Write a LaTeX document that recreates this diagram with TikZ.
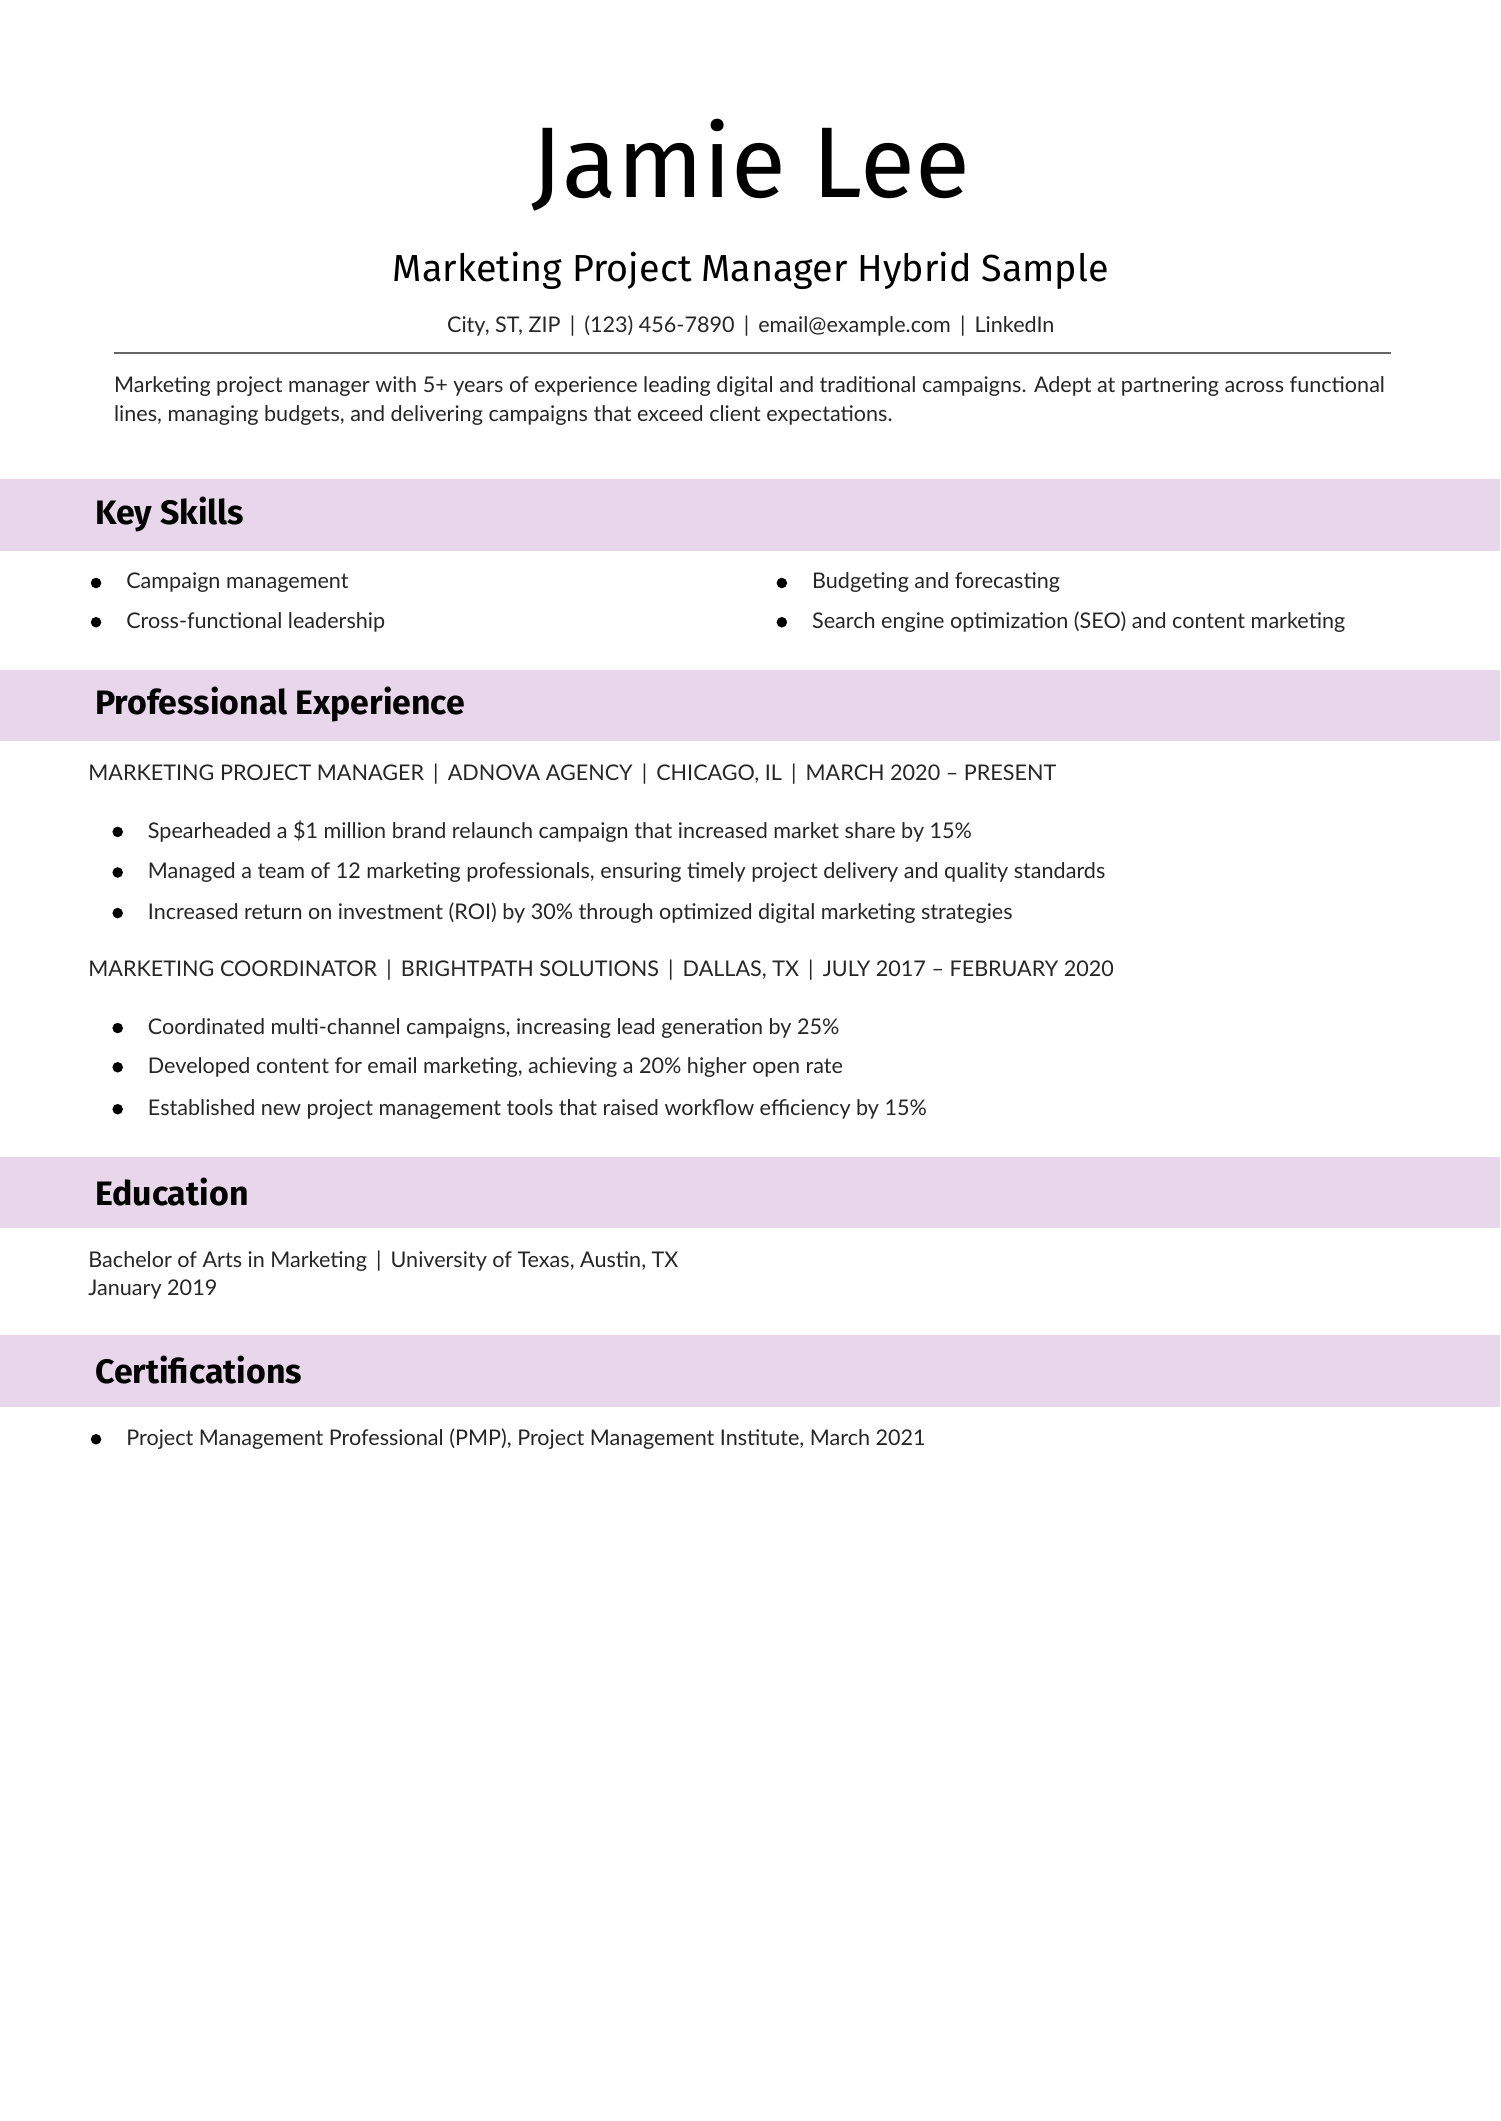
\documentclass[tikz,border=0pt]{standalone}
\usepackage{fontspec}
\setmainfont{Lato}
\newfontfamily\headfont{Fira Sans}
\usetikzlibrary{positioning}
\definecolor{band}{HTML}{E8D7EA}
\begin{document}
\begin{tikzpicture}[x=0.018936cm, y=-0.018936cm, inner sep=0pt]
   \useasboundingbox (0,0) rectangle (1109,1568);
   \tikzset{body/.style={anchor=west, font=\fontsize{8.6}{10}\selectfont, text=black!85},
            head/.style={anchor=west, font=\headfont\bfseries\fontsize{13.5}{16}\selectfont},
            dot/.style={circle, fill=black, minimum size=4.2pt}}
   % header
   \node (name) at (555,122) {\headfont\fontsize{40}{44}\selectfont Jamie Lee};
   \node (title) at (555,200) {\headfont\fontsize{15}{18}\selectfont Marketing Project Manager Hybrid Sample};
   \node[body, anchor=center] (contact) at (555,241) {City, ST, ZIP \,|\, (123) 456-7890 \,|\, email@example.com \,|\, LinkedIn};
   \draw[black!60, line width=0.8pt] (84,261) -- (1028,261);
   \node[body] (sum1) at (84,286) {Marketing project manager with 5+ years of experience leading digital and traditional campaigns. Adept at partnering across functional};
   \node[body] (sum2) at (84,307) {lines, managing budgets, and delivering campaigns that exceed client expectations.};
   % bands
   \foreach \y/\txt in {354/Key Skills, 495/Professional Experience, 855/Education, 987/Certifications} {
     \fill[band] (0,\y) rectangle (1109,\y+53);
     \node[head] at (70,\y+26) {\txt};
   }
   % skills
   \foreach \y/\txt in {431/Campaign management, 460/Cross-functional leadership}
     {\node[dot] at (71,\y) {}; \node[body] at (93,\y) {\txt};}
   \foreach \y/\txt in {431/Budgeting and forecasting, 460/Search engine optimization (SEO) and content marketing}
     {\node[dot] at (578,\y) {}; \node[body] at (600,\y) {\txt};}
   % experience
   \node[body] (job1) at (65,572) {MARKETING PROJECT MANAGER \,|\, ADNOVA AGENCY \,|\, CHICAGO, IL \,|\, MARCH 2020 -- PRESENT};
   \foreach \y/\txt in {615/Spearheaded a \$1 million brand relaunch campaign that increased market share by 15\%,
                        645/Managed a team of 12 marketing professionals{,} ensuring timely project delivery and quality standards,
                        675/Increased return on investment (ROI) by 30\% through optimized digital marketing strategies}
     {\node[dot] at (87,\y) {}; \node[body] at (109,\y) {\txt};}
   \node[body] (job2) at (65,717) {MARKETING COORDINATOR \,|\, BRIGHTPATH SOLUTIONS \,|\, DALLAS, TX \,|\, JULY 2017 -- FEBRUARY 2020};
   \foreach \y/\txt in {760/Coordinated multi-channel campaigns{,} increasing lead generation by 25\%,
                        789/Developed content for email marketing{,} achieving a 20\% higher open rate,
                        820/Established new project management tools that raised workflow efficiency by 15\%}
     {\node[dot] at (87,\y) {}; \node[body] at (109,\y) {\txt};}
   % education
   \node[body] (edu1) at (65,932) {Bachelor of Arts in Marketing \,|\, University of Texas, Austin, TX};
   \node[body] (edu2) at (65,953) {January 2019};
   % certifications
   \node[dot] at (71,1064) {};
   \node[body] (cert) at (93,1064) {Project Management Professional (PMP), Project Management Institute, March 2021};
\end{tikzpicture}
\end{document}
